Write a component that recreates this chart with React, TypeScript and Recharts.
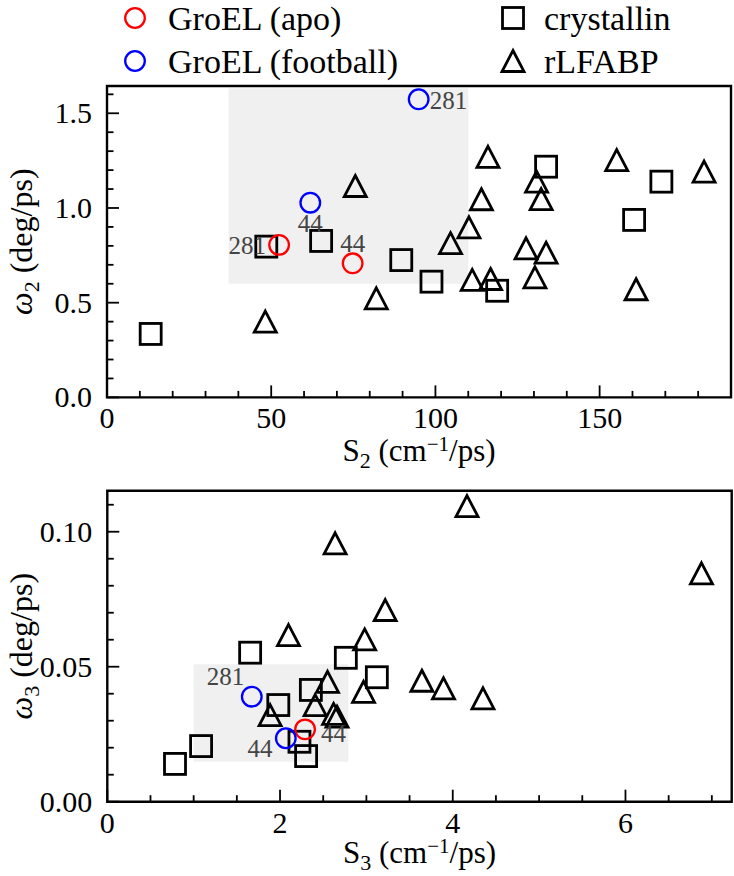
import React from 'react';
import { ScatterChart, Scatter, XAxis, YAxis, ReferenceArea } from 'recharts';

const FONT = "Liberation Serif, DejaVu Serif, Times New Roman, serif";

// ---------- Top panel: S2 vs omega2 ----------
const apoS2 = [52.4, 74.8];
const apoW2 = [0.805, 0.708];
const footballS2 = [61.9, 94.9];
const footballW2 = [1.028, 1.574];
const crystallinS2 = [13.3, 48.5, 65.2, 89.6, 98.8, 118.8, 133.7, 160.5, 168.8];
const crystallinW2 = [0.335, 0.796, 0.826, 0.725, 0.611, 0.563, 1.218, 0.937, 1.139];
const rlfabpS2 = [48.2, 75.6, 82.0, 104.6, 110.2, 114.0, 116.0, 111.2, 116.8, 127.6, 133.7, 130.3, 130.8, 132.2, 155.2, 161.1, 181.8];
const rlfabpW2 = [0.40, 1.116, 0.523, 0.814, 0.898, 1.046, 1.27, 0.62, 0.625, 0.787, 0.764, 0.634, 1.139, 1.047, 1.253, 0.571, 1.192];
const labelText2 = ['281', '44', '44', '281'];
const labelS2 = [42.7, 61.9, 74.8, 104.0];
const labelW2 = [0.80, 0.92, 0.814, 1.570];
const xDomain2 = [0, 190];
const yDomain2 = [0, 1.644];
const xTicks2 = [0, 10, 20, 30, 40, 50, 60, 70, 80, 90, 100, 110, 120, 130, 140, 150, 160, 170, 180, 190];
const yTicks2 = [0, 0.1, 0.2, 0.3, 0.4, 0.5, 0.6, 0.7, 0.8, 0.9, 1.0, 1.1, 1.2, 1.3, 1.4, 1.5, 1.6];
const shade2 = { x1: 37, x2: 110, y1: 0.6, y2: 1.632 };

// ---------- Bottom panel: S3 vs omega3 ----------
const apoS3 = [2.29];
const apoW3 = [0.0268];
const footballS3 = [1.673, 2.067];
const footballW3 = [0.0389, 0.0235];
const crystallinS3 = [0.784, 1.086, 1.654, 1.98, 2.225, 2.302, 2.357, 2.762, 3.121];
const crystallinW3 = [0.0140, 0.0206, 0.0552, 0.0358, 0.0222, 0.0169, 0.0414, 0.0533, 0.0461];
const rlfabpS3 = [1.885, 2.098, 2.407, 2.55, 2.62, 2.66, 2.638, 2.967, 2.98, 3.218, 3.643, 3.893, 4.165, 4.35, 6.88];
const rlfabpW3 = [0.0321, 0.0617, 0.0358, 0.0444, 0.0325, 0.0315, 0.0957, 0.0407, 0.0601, 0.071, 0.0448, 0.042, 0.1095, 0.0383, 0.0846];
const labelText3 = ['281', '44', '44'];
const labelS3 = [1.37, 1.769, 2.62];
const labelW3 = [0.0463, 0.0198, 0.0253];
const xDomain3 = [0, 7.23];
const yDomain3 = [0, 0.1152];
const xTicks3 = [0, 0.5, 1, 1.5, 2, 2.5, 3, 3.5, 4, 4.5, 5, 5.5, 6, 6.5, 7];
const yTicks3 = [0, 0.01, 0.02, 0.03, 0.04, 0.05, 0.06, 0.07, 0.08, 0.09, 0.10, 0.11];
const shade3 = { x1: 1.0, x2: 2.79, y1: 0.0148, y2: 0.0509 };

const zip = (xs: number[], ys: number[]) => xs.map((x, i) => ({ x, y: ys[i] }));
const zipLabels = (xs: number[], ys: number[], t: string[]) => xs.map((x, i) => ({ x, y: ys[i], label: t[i] }));

// ---------- markers ----------
const Circle = (color: string) => (p: any) =>
  <circle cx={p.cx} cy={p.cy} r={9.8} fill="none" stroke={color} strokeWidth={2.3} />;
const Square = (p: any) =>
  <rect x={p.cx - 10.5} y={p.cy - 10.5} width={21} height={21} fill="none" stroke="#000" strokeWidth={2.8} />;
const Triangle = (p: any) =>
  <path d={`M${p.cx},${p.cy - 10.5} L${p.cx + 11},${p.cy + 10.5} L${p.cx - 11},${p.cy + 10.5} Z`} fill="none" stroke="#000" strokeWidth={2.8} strokeLinejoin="miter" />;
const Annot = (p: any) =>
  <text x={p.cx} y={p.cy} textAnchor="middle" dominantBaseline="central" style={{ fontFamily: FONT }} fontSize={25} fill="#444">{p.payload.label}</text>;

// ---------- ticks ----------
const near = (a: number, b: number) => Math.abs(a - b) < 1e-6;
const makeXTick = (isMajor: (v: number) => boolean, fmt: (v: number) => string) => (props: any) => {
  const { x, y, payload } = props;
  const v = payload.value;
  const major = isMajor(v);
  return (
    <g>
      <line x1={x} y1={y} x2={x} y2={y - (major ? 12 : 6.5)} stroke="#000" strokeWidth={1.8} />
      {major && (
        <text x={x} y={y + 31} textAnchor="middle" style={{ fontFamily: FONT }} fontSize={30} fill="#000">{fmt(v)}</text>
      )}
    </g>
  );
};
const makeYTick = (isMajor: (v: number) => boolean, fmt: (v: number) => string) => (props: any) => {
  const { x, y, payload } = props;
  const v = payload.value;
  const major = isMajor(v);
  return (
    <g>
      <line x1={x} y1={y} x2={x + (major ? 12 : 6.5)} y2={y} stroke="#000" strokeWidth={1.8} />
      {major && (
        <text x={x - 15} y={y + 10} textAnchor="end" style={{ fontFamily: FONT }} fontSize={30} fill="#000">{fmt(v)}</text>
      )}
    </g>
  );
};

const XLabel = (sub: string, off: number) => (props: any) => {
  const vb = props.viewBox || {};
  const cx = vb.x + vb.width / 2;
  const y = vb.y + off;
  return (
    <text x={cx} y={y} textAnchor="middle" style={{ fontFamily: FONT }} fontSize={31} fill="#000">
      <tspan>S</tspan>
      <tspan dy={7} fontSize={22}>{sub}</tspan>
      <tspan dy={-7}> (cm</tspan>
      <tspan dy={-10} fontSize={21}>−1</tspan>
      <tspan dy={10}>/ps)</tspan>
    </text>
  );
};
const YLabel = (sub: string) => (props: any) => {
  const vb = props.viewBox || {};
  const cx = 32;
  const cy = vb.y + vb.height / 2;
  return (
    <text x={cx} y={cy} transform={`rotate(-90, ${cx}, ${cy})`} textAnchor="middle" style={{ fontFamily: FONT }} fontSize={32} fill="#000">
      <tspan fontStyle="italic">ω</tspan>
      <tspan dy={7} fontSize={22}>{sub}</tspan>
      <tspan dy={-7}> (deg/ps)</tspan>
    </text>
  );
};

const Legend = () => (
  <svg width={734} height={86} style={{ position: 'absolute', left: 0, top: 0, fontFamily: FONT }}>
    <circle cx={135} cy={18} r={9.8} fill="none" stroke="#ff0000" strokeWidth={2.3} />
    <text x={168} y={30} fontSize={34} fill="#000">GroEL (apo)</text>
    <circle cx={135} cy={61} r={9.8} fill="none" stroke="#0000ff" strokeWidth={2.3} />
    <text x={168} y={73} fontSize={34} fill="#000">GroEL (football)</text>
    <rect x={502.5} y={7.5} width={21} height={21} fill="none" stroke="#000" strokeWidth={2.8} />
    <text x={544} y={30} fontSize={34} fill="#000">crystallin</text>
    <path d="M513,50.5 L524,71.5 L502,71.5 Z" fill="none" stroke="#000" strokeWidth={2.8} />
    <text x={544} y={73} fontSize={34} fill="#000">rLFABP</text>
  </svg>
);

const Panel = (cfg: any) => (
  <ScatterChart width={734} height={cfg.height} margin={cfg.margin} style={{ fontFamily: FONT }}>
    <ReferenceArea x1={cfg.shade.x1} x2={cfg.shade.x2} y1={cfg.shade.y1} y2={cfg.shade.y2} fill="#f0f0f0" fillOpacity={1} stroke="none" ifOverflow="visible" />
    <XAxis
      type="number" dataKey="x" domain={cfg.xDomain} ticks={cfg.xTicks} interval={0}
      allowDataOverflow height={60} axisLine={false} tickLine={false} tickSize={0} tickMargin={0}
      tick={makeXTick(cfg.xMajor, cfg.xFmt)} label={XLabel(cfg.sub, cfg.labelOff)}
    />
    <YAxis
      type="number" dataKey="y" domain={cfg.yDomain} ticks={cfg.yTicks} interval={0}
      allowDataOverflow width={60} axisLine={false} tickLine={false} tickSize={0} tickMargin={0}
      tick={makeYTick(cfg.yMajor, cfg.yFmt)} label={YLabel(cfg.sub)}
    />
    <ReferenceArea x1={cfg.xDomain[0]} x2={cfg.xDomain[1]} y1={cfg.yDomain[0]} y2={cfg.yDomain[1]} fill="none" stroke="#000" strokeWidth={2.4} ifOverflow="visible" />
    <Scatter data={cfg.crystallin} shape={Square} isAnimationActive={false} />
    <Scatter data={cfg.rlfabp} shape={Triangle} isAnimationActive={false} />
    <Scatter data={cfg.apo} shape={Circle('#ff0000')} isAnimationActive={false} />
    <Scatter data={cfg.football} shape={Circle('#0000ff')} isAnimationActive={false} />
    <Scatter data={cfg.labels} shape={Annot} isAnimationActive={false} />
  </ScatterChart>
);

export default function App() {
  const top = {
    height: 480,
    margin: { top: 86, right: 3, left: 47, bottom: 22.6 },
    shade: shade2, xDomain: xDomain2, yDomain: yDomain2, xTicks: xTicks2, yTicks: yTicks2,
    xMajor: (v: number) => near(v % 50, 0), xFmt: (v: number) => String(v),
    yMajor: (v: number) => near((v * 10) % 5, 0) || near((v * 10) % 5, 5), yFmt: (v: number) => v.toFixed(1),
    sub: '2', labelOff: 64,
    crystallin: zip(crystallinS2, crystallinW2), rlfabp: zip(rlfabpS2, rlfabpW2),
    apo: zip(apoS2, apoW2), football: zip(footballS2, footballW2),
    labels: zipLabels(labelS2, labelW2, labelText2),
  };
  const bottom = {
    height: 396,
    margin: { top: 10.7, right: 2.3, left: 47.3, bottom: 14.3 },
    shade: shade3, xDomain: xDomain3, yDomain: yDomain3, xTicks: xTicks3, yTicks: yTicks3,
    xMajor: (v: number) => near(v % 2, 0), xFmt: (v: number) => String(v),
    yMajor: (v: number) => near(Math.round(v * 100) % 5, 0), yFmt: (v: number) => v.toFixed(2),
    sub: '3', labelOff: 61,
    crystallin: zip(crystallinS3, crystallinW3), rlfabp: zip(rlfabpS3, rlfabpW3),
    apo: zip(apoS3, apoW3), football: zip(footballS3, footballW3),
    labels: zipLabels(labelS3, labelW3, labelText3),
  };
  return (
    <div style={{ position: 'absolute', left: 0, top: 0, width: 734, height: 876, background: '#fff', fontFamily: FONT }}>
      <div style={{ position: 'absolute', left: 0, top: 0 }}>{Panel(top)}</div>
      <div style={{ position: 'absolute', left: 0, top: 480 }}>{Panel(bottom)}</div>
      <Legend />
    </div>
  );
}
